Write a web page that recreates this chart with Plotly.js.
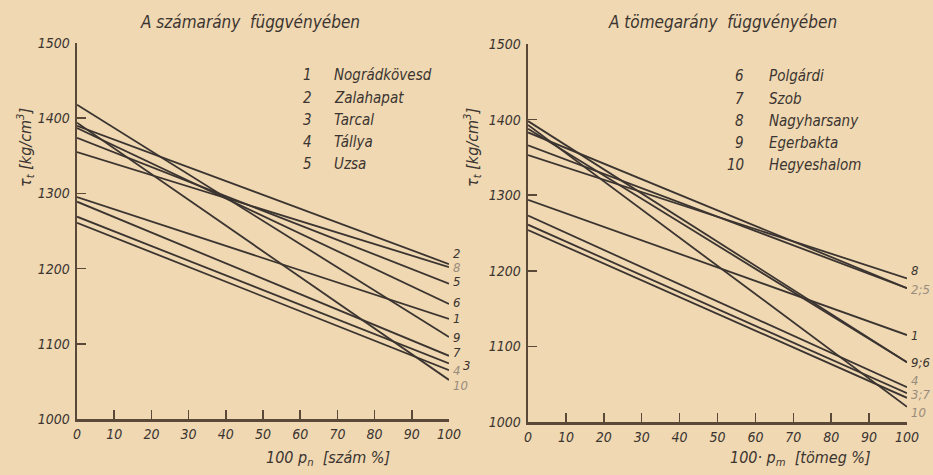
<!DOCTYPE html>
<html><head><meta charset="utf-8">
<script src="https://cdn.plot.ly/plotly-3.0.1.min.js"></script>
<style>html,body{margin:0;padding:0;background:#efd8b2;}#chart{width:933px;height:475px;}</style>
</head><body><div id="chart"></div>
<script>
// ---- data ----
const xEnds = [0, 100];
const seriesIds = ['1','2','3','4','5','6','7','8','9','10'];
// left panel: function of number ratio (szám %)
const numStart = [1295, 1390, 1269, 1261, 1374, 1387, 1289, 1355, 1418, 1394];
const numEnd   = [1133, 1206, 1074, 1065, 1180, 1153, 1084, 1202, 1109, 1052];
// right panel: function of mass ratio (tömeg %)
const massStart = [1294, 1383, 1254, 1273, 1366, 1388, 1261, 1353, 1398, 1393];
const massEnd   = [1115, 1177, 1032, 1046, 1177, 1079, 1038, 1190, 1079, 1020];
const legendLeftIds = ['1','2','3','4','5'];
const legendLeftNames = ['Nográdkövesd','Zalahapat','Tarcal','Tállya','Uzsa'];
const legendRightIds = ['6','7','8','9','10'];
const legendRightNames = ['Polgárdi','Szob','Nagyharsany','Egerbakta','Hegyeshalom'];
const xTicks = [0,10,20,30,40,50,60,70,80,90,100];
const yTicks = [1000,1100,1200,1300,1400,1500];
// end-of-line labels: [text, series index]
const leftEndLabels  = [['2',1],['8',7],['5',4],['6',5],['1',0],['9',8],['7',6],['3',2],['4',3],['10',9]];
const rightEndLabels = [['8',7],['2;5',1],['1',0],['9;6',8],['4',3],['3;7',6],['10',9]];

// ---- style ----
const ink = '#3b3430', axisInk = '#5a4938', faint = '#9a8c7c';
const fam = 'DejaVu Sans Condensed, Liberation Sans Narrow, DejaVu Sans, sans-serif';
const W = 933, H = 475;
const px = x => x / W, py = y => 1 - y / H;

const traces = [];
seriesIds.forEach((id, i) => {
  traces.push({x: xEnds, y: [numStart[i], numEnd[i]], xaxis: 'x', yaxis: 'y', mode: 'lines',
    line: {color: ink, width: 1.8}, name: id, showlegend: false, hoverinfo: 'skip'});
  traces.push({x: xEnds, y: [massStart[i], massEnd[i]], xaxis: 'x2', yaxis: 'y2', mode: 'lines',
    line: {color: ink, width: 1.8}, name: id, showlegend: false, hoverinfo: 'skip'});
});

const tickFont = {family: fam, size: 14, color: ink, style: 'italic'};
function xa(dom, anchor) {
  return {domain: dom, range: [0, 100], tickvals: xTicks, ticks: 'inside', ticklen: 9, tickwidth: 1.5,
    tickcolor: axisInk, showline: true, linewidth: 3, linecolor: axisInk, showgrid: false, zeroline: false,
    tickfont: tickFont, anchor: anchor, fixedrange: true};
}
function ya(dom, anchor) {
  return {domain: dom, range: [1000, 1500], tickvals: yTicks, ticks: 'inside', ticklen: 9, tickwidth: 1.5,
    tickcolor: axisInk, showline: true, linewidth: 2.5, linecolor: axisInk, showgrid: false, zeroline: false,
    tickfont: tickFont, anchor: anchor, fixedrange: true, ticklabelstandoff: 2};
}

const ann = [];
const txt = (text, x, y, opts) => Object.assign({text, x: px(x), y: py(y), xref: 'paper', yref: 'paper',
  xanchor: 'center', yanchor: 'middle',
  showarrow: false, font: {family: fam, size: 14, color: ink, style: 'italic'}}, opts || {});
const bigFont = {family: fam, size: 15, color: ink, style: 'italic'};
const titleFont = {family: fam, size: 17, color: ink, style: 'italic'};
const axFont = {family: fam, size: 16, color: ink, style: 'italic'};
ann.push(txt('A számarány  függvényében', 250, 22, {font: titleFont}));
ann.push(txt('A tömegarány  függvényében', 722, 22, {font: titleFont}));
ann.push(txt('100 p<sub>n</sub>  [szám %]', 328, 458, {font: axFont}));
ann.push(txt('100· p<sub>m</sub>  [tömeg %]', 800, 458, {font: axFont}));
ann.push(txt('τ<sub>t</sub> [kg/cm<sup>3</sup>]', 25, 148, {textangle: -90, font: axFont}));
ann.push(txt('τ<sub>t</sub> [kg/cm<sup>3</sup>]', 472, 148, {textangle: -90, font: axFont}));
const legRows = [75, 98, 120, 142, 164];
legendLeftIds.forEach((id, i) => {
  ann.push(txt(id, 314, legRows[i], {xanchor: 'right', font: bigFont}));
  ann.push(txt(legendLeftNames[i], 332, legRows[i], {xanchor: 'left', font: bigFont}));
});
legendRightIds.forEach((id, i) => {
  ann.push(txt(id, 746, legRows[i] + 1, {xanchor: 'right', font: bigFont}));
  ann.push(txt(legendRightNames[i], 767, legRows[i] + 1, {xanchor: 'left', font: bigFont}));
});
// end labels anchored at line ends
const leftShift = {'2': 11, '8': 0, '5': 2, '6': 1, '1': 0, '9': 0, '7': 3, '3': -2, '4': 0, '10': -6};
const leftXShift = {'3': 10};
const leftFaint = {'8': 1, '4': 1, '10': 1};
leftEndLabels.forEach(([t, i]) => {
  ann.push({text: t, x: 100, y: numEnd[i], xref: 'x', yref: 'y', showarrow: false, xanchor: 'left', yanchor: 'middle',
    xshift: 2 + (leftXShift[t] || 0), yshift: leftShift[t] || 0,
    font: {family: fam, size: 13, color: leftFaint[t] ? faint : ink, style: 'italic'}});
});
const rightShift = {'8': 8, '2;5': -1, '1': 0, '9;6': 0, '4': 7, '3;7': -1, '10': -6};
const rightFaint = {'2;5': 1, '3;7': 1, '10': 1, '4': 1};
rightEndLabels.forEach(([t, i]) => {
  ann.push({text: t, x: 100, y: massEnd[i], xref: 'x2', yref: 'y2', showarrow: false, xanchor: 'left', yanchor: 'middle',
    xshift: 2, yshift: rightShift[t] || 0,
    font: {family: fam, size: 13, color: rightFaint[t] ? faint : ink, style: 'italic'}});
});

const layout = {
  width: W, height: H, margin: {l: 0, r: 0, t: 0, b: 0},
  paper_bgcolor: '#efd8b2', plot_bgcolor: 'rgba(0,0,0,0)', showlegend: false,
  xaxis: xa([77 / W, 449 / W], 'y'),
  yaxis: ya([56 / H, 432 / H], 'x'),
  xaxis2: xa([528 / W, 907 / W], 'y2'),
  yaxis2: ya([53 / H, 431 / H], 'x2'),
  annotations: ann
};
Plotly.newPlot('chart', traces, layout, {staticPlot: true});
</script></body></html>
